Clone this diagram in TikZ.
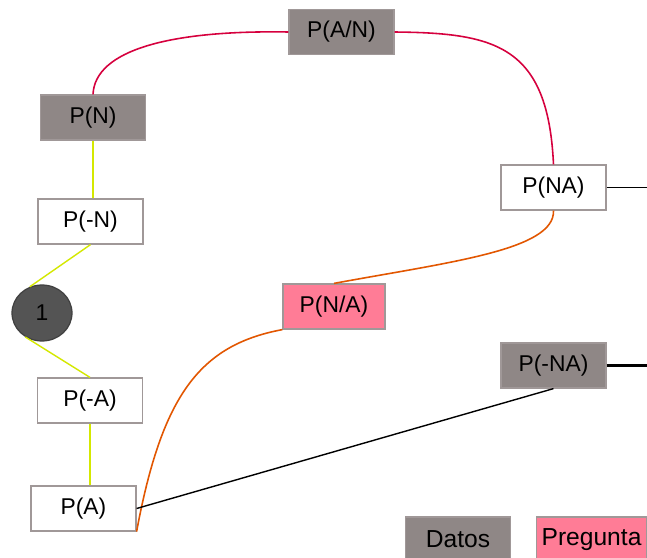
\documentclass[tikz,border=0pt]{standalone}
\usepackage{fontspec}
\setmainfont{Liberation Sans}
\usetikzlibrary{shapes.geometric}
\definecolor{datosgris}{RGB}{143,135,134}
\definecolor{preguntarosa}{RGB}{255,124,150}
\definecolor{bordegris}{RGB}{160,152,152}
\definecolor{linearoja}{RGB}{214,0,62}
\definecolor{lineanaranja}{RGB}{226,86,0}
\definecolor{lineaamarilla}{RGB}{212,232,0}
\tikzset{caja/.style={draw=bordegris,line width=0.7pt,minimum width=2.1cm,minimum height=0.9cm,inner sep=0pt,font=\fontsize{13}{15}\selectfont},
	dato/.style={caja,fill=datosgris},
	pregunta/.style={caja,fill=preguntarosa},
	blanca/.style={caja,fill=white},
	roja/.style={linearoja,line width=0.9pt},
	naranja/.style={lineanaranja,line width=0.9pt},
	amarilla/.style={lineaamarilla,line width=0.8pt}}

\begin{document}
\begin{tikzpicture}[x=0.02cm,y=-0.02cm]
\clip (0,0) rectangle (647,558);
\fill[white] (0,0) rectangle (647,558);

\node[dato] (pAN) at (341.5,32) {P(A/N)};
\node[dato] (pN) at (93,117.5) {P(N)};
\node[blanca] (pnN) at (90.5,221.5) {P(-N)};
\node[ellipse,draw=black!75,fill=black!67,line width=0.7pt,minimum width=1.2cm,minimum height=1.12cm,font=\fontsize{13}{15}\selectfont] (uno) at (42,313) {1};
\node[blanca] (pnA) at (90,400.5) {P(-A)};
\node[blanca] (pA) at (83.5,508.5) {P(A)};
\node[pregunta,minimum width=2.04cm] (pNA) at (334,306.5) {P(N/A)};
\node[blanca] (pNAc) at (553.5,187.5) {P(NA)};
\node[dato] (pnNA) at (553.5,365.5) {P(-NA)};
\node[dato,font=\fontsize{14}{16}\selectfont] (datos) at (458,539.5) {Datos};
\node[pregunta,anchor=west,inner xsep=0.1cm,font=\fontsize{14}{16}\selectfont] (preg) at (536,539.5) {Pregunta};

\coordinate (fin1) at (647,187.5);
\coordinate (fin2) at (647,365.5);

\draw[roja] (pN.north) .. controls (95,50) and (170,30) .. (pAN.west);
\draw[roja] (pAN.east) .. controls (495,33) and (548,45) .. (pNAc.north);

\draw[naranja] (pNAc.south) .. controls (555,250) and (450,262) .. (pNA.north);
\draw[naranja] (pNA.south west) .. controls (200,345) and (162,395) .. (pA.south east);

\draw[amarilla] (pN.south) -- (pN.south |- pnN.north);
\draw[amarilla] (pnN.south) -- (uno.115);
\draw[amarilla] (uno.235) -- (pnA.north);
\draw[amarilla] (pnA.south) -- (pnA.south |- pA.north);

\draw[black,line width=0.8pt] (pA.east) -- (pnNA.south);
\draw[black,line width=0.8pt] (pNAc.east) -- (fin1);
\draw[black,line width=1.3pt] (pnNA.east) -- (fin2);
\end{tikzpicture}
\end{document}
